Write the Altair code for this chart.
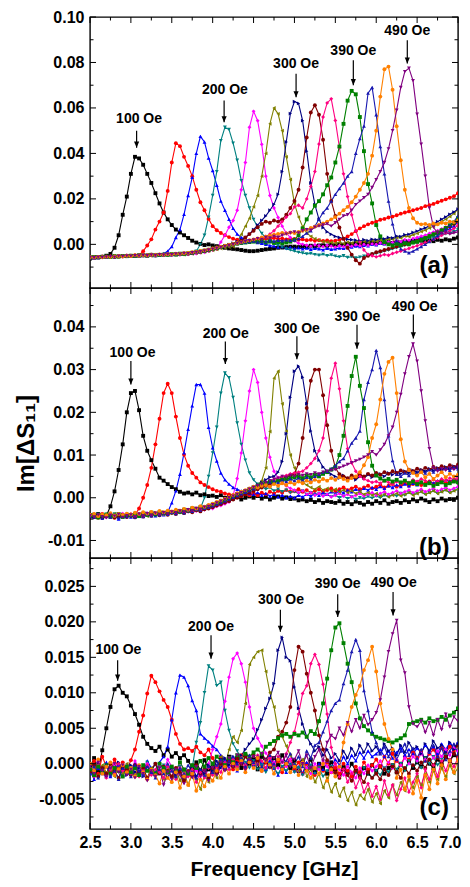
import altair as alt
import pandas as pd

alt.data_transformers.disable_max_rows()

# ---------------- data (values in units of 1e-4) ----------------
FREQ = [round(2.5 + 0.05 * i, 2) for i in range(91)]
UNIT = 1e-4

CURVE_NAMES = ["black", "red", "blue", "teal", "magenta", "olive", "navy",
               "maroon", "pink", "green", "royal", "orange", "purple"]
CURVE_COLORS = ["#000000", "#FF0000", "#0000FF", "#008080", "#FF00FF", "#808000", "#000080",
                "#800000", "#FF0080", "#008000", "#1818B0", "#FF8000", "#800080"]
CURVE_SHAPES = ["square", "circle", "triangle-up", "triangle-down", "diamond", "triangle-left",
                "triangle-right", "circle", "diamond", "square", "triangle-up", "circle", "triangle-down"]

# ---- panel (a)
A_BLACK = [-62,-58,-57,-55,-50,-42,-15,40,130,210,
           310,385,378,350,310,270,225,180,140,110,
           85,65,52,40,28,16,8,2,-3,0,
           -5,-8,-12,-15,-18,-20,-22,-25,-28,-30,
           -30,-28,-25,-22,-20,-18,-15,-14,-12,-10,
           -10,-12,-8,-10,-6,-8,-5,-4,-6,-2,
           -4,0,-2,2,0,4,2,5,3,6,
           4,8,5,10,6,12,8,14,10,15,
           12,16,12,18,14,20,16,22,18,25,
           30]
A_RED = [-60,-57,-56,-54,-56,-53,-52,-54,-51,-50,
         -50,-49,-48,-30,-5,22,65,100,140,235,
         360,445,432,385,345,300,240,185,150,112,
         80,62,50,40,32,25,20,15,12,14,
         18,22,20,25,22,28,24,26,22,25,
         24,20,22,18,20,16,18,15,17,14,
         16,20,25,35,45,58,70,80,88,95,
         100,108,112,118,122,128,135,140,145,150,
         155,160,168,172,178,185,192,198,205,212,
         225]
A_BLUE = [-58,-60,-55,-57,-54,-56,-52,-53,-50,-52,
          -51,-49,-50,-48,-50,-47,-49,-45,-40,-30,
          -10,30,65,132,215,295,400,475,450,380,
          325,260,190,150,110,70,45,30,22,18,
          14,8,4,0,-5,-8,-12,-10,-15,-12,
          -18,-15,-20,-16,-22,-18,-20,-24,-18,-22,
          -20,-16,-18,-14,-12,-8,-10,-4,-6,0,
          -2,4,2,8,6,12,10,16,14,20,
          24,30,28,36,40,48,54,60,70,80,
          100]
A_TEAL = [-57,-59,-56,-55,-57,-54,-55,-52,-53,-51,
          -50,-52,-49,-50,-48,-49,-47,-48,-46,-47,
          -45,-47,-44,-46,-43,-40,-30,0,40,120,
          215,320,456,515,505,445,370,280,215,160,
          110,75,48,30,15,5,-5,-12,-20,-25,
          -30,-35,-38,-42,-40,-45,-48,-44,-50,-46,
          -52,-55,-50,-58,-54,-60,-56,-52,-48,-44,
          -40,-36,-30,-26,-20,-15,-10,-5,0,5,
          10,16,20,26,30,36,40,46,50,56,
          65]
A_MAGENTA = [-59,-56,-58,-54,-55,-56,-53,-51,-54,-50,
             -52,-49,-50,-47,-51,-48,-49,-46,-48,-45,
             -47,-44,-46,-43,-44,-40,-41,-37,-35,-30,
             -25,-18,10,40,75,105,150,240,360,515,
             585,544,440,300,215,160,118,80,50,30,
             15,5,0,-4,-8,-2,-6,-10,-4,-8,
             -12,-6,-10,-4,-8,-2,-6,0,-4,2,
             0,6,4,10,8,14,12,20,18,26,
             30,36,40,48,54,60,68,76,84,92,
             110]
A_OLIVE = [-57,-58,-55,-56,-54,-53,-55,-51,-52,-50,
           -51,-50,-48,-49,-47,-50,-46,-48,-45,-47,
           -44,-46,-43,-45,-41,-42,-38,-36,-33,-30,
           -26,-22,-18,-15,-12,-10,10,44,80,115,
           165,215,300,400,530,600,574,500,385,285,
           180,120,78,50,35,25,18,12,10,8,
           5,8,4,10,6,12,8,14,10,16,
           14,20,18,24,22,30,28,36,34,42,
           48,56,62,72,80,90,100,110,122,135,
           155]
A_NAVY = [-56,-58,-55,-57,-53,-55,-52,-54,-51,-52,
          -50,-51,-48,-50,-49,-47,-48,-46,-47,-45,
          -46,-43,-44,-41,-42,-38,-36,-33,-30,-25,
          -20,-15,-10,-6,-2,5,12,20,30,45,
          65,85,105,125,150,176,220,320,450,575,
          628,620,544,410,270,175,110,74,55,44,
          35,30,25,22,20,18,15,20,16,22,
          20,26,24,30,28,36,34,42,44,52,
          58,66,72,82,90,100,110,120,132,142,
          155]
A_MAROON = [-58,-56,-57,-54,-55,-53,-56,-52,-53,-50,
            -52,-49,-50,-48,-49,-46,-48,-45,-47,-44,
            -45,-42,-44,-40,-41,-38,-35,-32,-30,-26,
            -22,-18,-12,-8,-4,0,6,15,30,45,
            60,75,90,100,95,105,100,110,130,160,
            191,240,338,470,580,612,570,460,310,191,
            125,74,25,-15,-45,-70,-85,-60,-50,-42,
            -35,-30,-25,-20,-14,-10,-4,0,5,10,
            16,22,28,36,44,52,60,70,80,90,
            100]
A_PINK = [-57,-59,-56,-55,-56,-53,-54,-52,-51,-53,
          -50,-51,-48,-50,-47,-49,-46,-47,-45,-46,
          -44,-45,-42,-43,-40,-38,-36,-33,-30,-26,
          -22,-18,-14,-10,-6,-2,2,6,10,14,
          18,22,28,35,45,60,80,100,120,135,
          165,172,160,200,255,320,441,560,622,640,
          545,426,310,210,130,60,10,-25,-44,-50,
          -55,-50,-45,-48,-40,-35,-30,-24,-18,-12,
          -6,0,8,14,22,30,40,50,60,70,
          85]
A_GREEN = [-58,-56,-57,-55,-54,-56,-52,-54,-51,-52,
           -50,-51,-49,-48,-50,-46,-48,-47,-45,-46,
           -43,-45,-41,-42,-39,-37,-34,-31,-28,-24,
           -20,-16,-12,-8,-4,0,3,6,8,10,
           12,10,14,8,12,6,10,5,8,12,
           20,40,70,110,140,170,190,220,260,294,
           360,430,530,632,675,660,560,410,265,180,
           85,35,10,0,-5,2,-4,5,0,8,
           12,20,28,36,44,52,62,72,84,96,
           115]
A_ROYAL = [-57,-55,-58,-54,-56,-53,-55,-51,-53,-50,
           -51,-49,-50,-47,-49,-46,-48,-45,-47,-44,
           -45,-42,-43,-40,-38,-36,-34,-30,-27,-23,
           -19,-15,-10,-6,-2,2,5,8,10,12,
           14,10,15,12,16,14,18,16,20,18,
           20,25,35,50,60,80,110,140,160,190,
           220,245,270,300,320,400,465,520,665,690,
           570,430,310,190,90,15,-20,-30,-37,-30,
           -20,-10,0,12,24,38,52,68,84,100,
           125]
A_ORANGE = [-56,-58,-55,-57,-54,-55,-53,-51,-53,-50,
            -52,-48,-50,-47,-49,-46,-47,-44,-46,-43,
            -44,-41,-42,-39,-38,-35,-33,-29,-26,-22,
            -18,-14,-10,-6,-2,2,6,10,14,18,
            22,26,30,34,38,42,46,50,48,52,
            50,55,60,65,72,78,85,92,100,110,
            120,135,150,165,185,210,240,270,310,390,
            500,650,770,782,680,520,370,240,160,115,
            95,88,90,85,92,88,95,92,100,98,
            105]
A_PURPLE = [-57,-59,-56,-58,-55,-54,-56,-52,-53,-51,
            -52,-50,-51,-48,-50,-47,-49,-45,-47,-44,
            -45,-42,-43,-40,-41,-37,-35,-32,-29,-25,
            -21,-17,-13,-9,-5,0,4,8,12,16,
            20,25,22,30,28,35,32,40,45,50,
            55,50,60,65,62,75,80,85,90,80,
            95,110,125,130,150,175,190,205,220,250,
            285,320,360,420,500,590,690,760,775,720,
            573,441,300,160,75,50,48,52,45,50,
            55]

# ---- panel (b)
B_BLACK = [-40,-44,-38,-45,-42,-20,15,65,125,200,
           245,250,205,145,110,88,68,47,40,32,
           25,20,14,10,12,8,12,6,8,4,
           5,2,6,0,4,-2,2,-4,0,3,
           0,4,-2,2,-4,0,3,-2,1,-3,
           -2,-6,-4,-8,-5,-10,-6,-12,-8,-10,
           -12,-8,-14,-10,-15,-9,-12,-16,-10,-14,
           -8,-12,-6,-14,-10,-8,-12,-6,-10,-4,
           -8,-2,-6,-10,-4,-8,-2,-6,-3,-5,
           0]
B_RED = [-42,-40,-45,-38,-43,-41,-47,-40,-44,-39,
         -42,-40,-25,0,30,70,125,185,245,267,
         245,190,140,101,75,58,47,36,30,25,
         20,16,14,10,8,6,10,4,8,6,
         10,6,12,8,14,10,16,12,18,14,
         16,20,14,18,12,16,20,14,18,22,
         16,20,24,18,22,26,20,24,28,22,
         26,30,24,28,32,26,30,34,28,32,
         36,30,34,38,32,36,40,34,38,42,
         40]
B_BLUE = [-44,-40,-46,-41,-38,-45,-42,-50,-43,-40,
          -45,-42,-39,-44,-40,-38,-42,-36,-40,-34,
          -12,16,55,105,160,215,265,265,245,165,
          117,86,58,42,32,24,20,16,12,10,
          8,12,6,10,4,8,2,6,0,4,
          0,6,2,8,4,10,6,12,8,14,
          10,16,12,18,14,20,16,22,18,24,
          20,26,22,28,24,30,26,32,28,34,
          30,36,32,38,34,40,36,42,38,44,
          40]
B_TEAL = [-40,-43,-39,-45,-41,-44,-38,-46,-42,-40,
          -43,-39,-41,-37,-42,-38,-40,-36,-39,-35,
          -37,-33,-35,-31,-33,-28,-30,-25,0,50,
          105,165,245,292,281,235,175,125,88,58,
          42,32,26,20,24,16,20,14,18,12,
          14,10,16,8,12,6,10,4,8,2,
          6,0,4,-2,2,-4,0,-2,3,-1,
          4,0,6,2,8,4,10,6,12,8,
          10,14,8,12,16,10,14,18,12,16,
          20]
B_MAGENTA = [-42,-38,-44,-40,-45,-39,-43,-41,-37,-42,
             -40,-44,-38,-41,-36,-40,-38,-35,-39,-33,
             -36,-32,-34,-30,-33,-28,-31,-26,-28,-23,
             -25,-20,-18,-14,-10,5,45,105,180,250,
             300,270,200,140,95,62,47,36,28,22,
             18,12,16,8,12,6,10,4,8,2,
             6,10,4,8,2,6,10,4,8,12,
             6,10,14,8,12,16,10,14,18,12,
             16,20,14,18,22,16,20,24,18,22,
             26]
B_OLIVE = [-41,-45,-39,-43,-40,-46,-38,-42,-44,-39,
           -42,-37,-40,-38,-43,-36,-39,-35,-38,-34,
           -35,-31,-33,-29,-31,-26,-28,-24,-25,-20,
           -18,-14,-10,-6,-2,2,6,10,14,18,
           22,30,40,70,155,280,296,220,156,100,
           70,48,36,30,24,20,26,18,22,16,
           20,14,18,12,16,10,14,8,12,6,
           10,4,8,2,6,10,4,8,12,6,
           10,14,8,12,16,10,14,18,12,16,
           20]
B_NAVY = [-43,-39,-45,-40,-42,-38,-44,-41,-39,-43,
          -40,-37,-41,-38,-36,-40,-35,-38,-34,-36,
          -33,-35,-30,-32,-28,-30,-25,-26,-22,-20,
          -16,-12,-8,-4,0,4,8,12,16,20,
          24,30,36,42,48,50,60,85,150,235,
          296,308,282,220,156,110,88,72,62,55,
          50,46,52,44,48,42,50,46,54,48,
          52,56,50,58,54,60,56,62,58,64,
          60,66,62,68,64,70,66,72,68,74,
          72]
B_MAROON = [-45,-41,-47,-42,-44,-40,-46,-43,-41,-45,
            -42,-46,-40,-44,-38,-42,-37,-41,-36,-40,
            -35,-38,-33,-36,-31,-34,-29,-32,-27,-25,
            -22,-18,-15,-11,-8,-4,0,4,8,12,
            16,20,24,28,32,36,40,44,48,52,
            55,80,140,210,274,300,300,240,170,110,
            70,55,50,46,52,48,54,50,56,52,
            58,54,60,56,62,58,64,60,66,62,
            68,64,70,66,72,68,74,70,76,72,
            78]
B_PINK = [-40,-44,-42,-38,-45,-41,-43,-39,-44,-40,
          -38,-42,-39,-43,-37,-40,-36,-39,-35,-37,
          -33,-36,-31,-34,-29,-32,-27,-28,-24,-22,
          -18,-14,-10,-6,-2,2,6,10,14,18,
          22,26,30,34,38,42,46,50,52,56,
          58,60,62,70,80,92,110,140,203,280,
          315,255,180,115,82,62,50,44,40,36,
          38,34,40,36,32,38,34,40,36,42,
          38,44,40,36,42,38,44,40,46,42,
          48]
B_GREEN = [-43,-40,-46,-41,-39,-44,-42,-38,-45,-40,
           -41,-38,-43,-37,-40,-35,-39,-34,-37,-33,
           -34,-31,-33,-28,-30,-25,-27,-22,-23,-19,
           -16,-12,-8,-4,0,4,8,12,16,20,
           24,28,32,34,38,36,40,42,44,46,
           48,50,46,52,48,54,50,56,60,66,
           72,100,145,215,285,330,262,210,130,75,
           52,45,40,44,38,42,36,40,34,38,
           32,36,30,34,28,32,36,30,34,38,
           36]
B_ROYAL = [-44,-46,-41,-48,-43,-45,-40,-47,-42,-44,
           -41,-45,-39,-43,-38,-42,-37,-40,-36,-39,
           -34,-37,-32,-35,-30,-32,-27,-29,-24,-22,
           -19,-15,-11,-7,-3,1,5,9,13,17,
           21,25,29,33,37,40,36,42,38,44,
           40,46,42,48,44,50,55,60,62,68,
           75,85,92,110,128,140,156,230,270,300,
           345,305,230,145,87,55,50,58,52,60,
           56,64,58,66,60,68,62,70,64,72,
           68]
B_ORANGE = [-40,-38,-43,-39,-41,-36,-42,-38,-40,-37,
            -39,-35,-38,-34,-37,-33,-36,-31,-34,-30,
            -32,-28,-30,-26,-28,-23,-25,-20,-21,-17,
            -14,-10,-6,-2,2,6,10,14,18,22,
            26,24,28,30,26,32,28,34,30,36,
            32,38,34,40,36,42,38,44,40,46,
            42,48,44,40,46,50,60,76,95,140,
            172,230,290,318,328,245,137,85,65,58,
            52,60,48,56,44,52,60,48,56,50,
            54]
B_PURPLE = [-42,-45,-40,-44,-47,-41,-43,-39,-46,-42,
            -40,-44,-38,-42,-37,-41,-36,-39,-35,-38,
            -33,-35,-31,-33,-28,-30,-25,-27,-22,-20,
            -16,-12,-8,-4,0,4,8,12,16,20,
            24,28,32,36,40,44,46,50,48,52,
            50,54,52,56,54,58,56,60,62,64,
            66,70,74,78,82,86,90,95,100,108,
            100,112,125,145,165,200,242,290,330,360,
            320,250,180,115,70,62,68,64,70,66,
            72]

# ---- panel (c)
C_BLACK = [-5,8,-12,19,50,80,105,110,100,95,
           82,70,55,38,28,22,18,24,12,20,
           10,15,8,12,4,-6,2,-10,5,-8,
           0,-12,6,-4,10,-2,8,-6,12,0,
           6,-8,10,2,-4,8,-2,12,0,-6,
           4,-10,2,-8,6,-12,0,-6,-14,2,
           -8,-16,-4,-12,0,-10,-18,-6,-14,-2,
           -10,-4,-14,-6,-2,-12,0,-8,4,-6,
           2,-4,8,0,-6,6,-2,10,4,12,
           8]
C_RED = [-8,4,-14,10,-4,-12,6,-6,2,-10,
         5,20,45,68,99,124,115,102,90,80,
         62,42,28,20,22,18,24,16,12,20,
         8,-4,10,-2,6,-8,4,12,-6,2,
         -4,8,-10,2,10,-6,4,-12,0,6,
         -8,2,-14,0,-6,-16,-4,-10,2,-12,
         -6,-14,0,-10,-18,-4,-12,2,-8,-2,
         6,-4,10,0,14,4,-2,10,6,16,
         8,18,4,14,20,10,22,14,24,18,
         26]
C_BLUE = [-10,-22,-6,-14,2,-18,-8,-2,-16,-6,
          -12,0,-8,-14,4,-6,-12,2,10,24,
          62,100,125,122,110,89,75,42,36,31,
          25,20,12,4,-6,2,-10,6,-4,8,
          -2,10,0,-8,4,-6,-16,-4,-12,0,
          -10,-4,-14,2,-6,-12,0,-8,4,-4,
          6,-2,10,0,12,4,16,8,18,10,
          14,20,10,18,8,16,22,12,20,14,
          22,16,26,18,24,14,28,20,30,22,
          30]
C_TEAL = [-12,-2,-20,-8,-16,0,-10,-22,-6,-14,
          -4,-18,-8,-12,2,-10,-16,-6,-2,-14,
          -8,-20,-4,-12,-18,-6,30,58,100,138,
          132,110,115,75,47,28,18,8,2,-6,
          4,-8,-2,-12,0,-6,-14,-4,-10,-2,
          -12,-6,-16,-8,-2,-14,-6,-18,-10,-4,
          -14,-20,-8,-16,-24,-12,-18,-6,-14,-20,
          -10,-16,-6,-12,-2,-8,0,-10,4,-4,
          2,-6,8,0,10,-2,6,12,4,14,
          10]
C_MAGENTA = [-6,-16,2,-10,-4,-14,0,-8,-18,-2,
             -10,4,-6,-12,0,-8,-14,-2,-10,6,
             -4,-12,2,-8,-16,-2,-10,-18,-6,0,
             20,38,56,88,122,148,156,141,115,80,
             50,36,25,15,8,2,-6,4,-4,6,
             -2,-10,2,-6,-14,0,-8,4,-4,-12,
             0,-8,-16,-4,-12,-20,-6,-14,-2,-10,
             -4,4,-8,2,-6,6,-2,8,0,10,
             4,14,6,16,8,18,10,20,12,22,
             18]
C_OLIVE = [-10,-4,-16,-2,-12,-8,-18,-6,-14,0,
           -8,-16,-4,-12,-20,-6,-14,-10,-22,-8,
           -18,-6,-24,-12,-30,-14,-22,-36,-16,-26,
           -10,-20,10,-4,20,38,30,47,85,140,
           150,158,160,130,100,80,47,38,25,12,
           0,-10,6,-18,-8,-26,-14,-34,-20,-40,
           -28,-46,-34,-52,-40,-58,-44,-50,-36,-54,
           -42,-56,-38,-48,-30,-44,-26,-38,-22,-34,
           -18,-30,-14,-26,-10,-22,-6,-18,-2,-14,
           -6]
C_NAVY = [-4,-14,0,-10,-18,-6,-12,2,-8,-16,
          -2,-12,-6,-18,-4,-10,0,-14,-8,-20,
          -6,-16,-10,-22,-12,-4,-18,-8,-14,-2,
          -10,4,-6,8,-2,10,2,12,20,28,
          35,48,62,78,92,113,160,178,150,145,
          108,78,56,38,28,18,24,12,20,8,
          14,4,18,8,22,12,26,16,28,18,
          24,14,28,18,22,12,26,16,30,20,
          24,14,28,18,32,22,26,16,30,20,
          28]
C_MAROON = [-12,-2,-18,-6,-14,0,-10,-20,-4,-8,
            -16,-2,-12,-6,-20,-8,0,-14,-4,-10,
            -18,-6,-12,-24,-10,-16,-2,-14,-8,-20,
            -6,-12,0,-8,4,-4,8,0,10,2,
            12,4,14,6,16,20,38,45,58,80,
            132,165,158,127,100,75,40,20,5,-6,
            -12,-20,-8,-16,-24,-10,-18,-26,-12,-20,
            -14,-22,-8,-16,-4,-12,-20,-6,-14,-2,
            -10,2,-6,6,-2,8,0,10,4,14,
            10]
C_PINK = [-6,-18,-2,-12,-20,-8,-14,0,-10,-4,
          -14,-6,-18,-10,-2,-16,-8,-12,-20,-4,
          -10,-22,-6,-14,-18,-8,-26,-12,-20,-6,
          -16,-4,-12,2,-8,6,-4,8,-2,10,
          0,12,4,-6,8,-2,10,2,14,30,
          45,70,99,110,141,154,140,112,70,23,
          0,-18,-8,-26,-14,-34,-20,-40,-28,-46,
          -32,-50,-24,-44,-30,-52,-36,-20,-40,-26,
          -14,-34,-8,-22,-2,-18,4,-10,6,-4,
          8]
C_GREEN = [-8,-16,-4,-12,-2,-14,-6,-10,-18,-4,
           -12,-6,-16,-2,-10,-8,-14,0,-6,-12,
           -4,-10,2,-8,-14,-2,-6,4,-4,8,
           0,10,4,-2,8,2,12,6,14,10,
           16,20,14,24,28,32,36,40,42,38,
           42,40,44,38,46,42,60,85,120,160,
           192,198,170,141,115,85,64,53,47,42,
           38,36,34,32,30,33,36,40,56,58,
           60,62,58,64,60,62,66,62,68,72,
           78]
C_ROYAL = [-14,-4,-20,-8,-2,-16,-10,-22,-6,-12,
           -18,-2,-10,-16,-4,-12,-20,-8,-14,0,
           -10,-18,-6,-14,-2,-12,-20,-8,-16,-4,
           -12,-2,6,-6,4,10,0,8,-4,12,
           2,10,-4,6,12,0,8,-6,4,14,
           0,10,-4,18,8,26,30,45,60,75,
           85,90,113,132,158,175,160,103,75,45,
           30,14,24,10,20,6,18,28,12,22,
           8,20,4,16,26,10,22,6,18,28,
           14]
C_ORANGE = [0,-10,6,-14,-4,2,-16,-8,-2,-12,
            -6,-18,-2,-12,-22,-8,-16,-28,-10,-20,
            -26,-12,-34,-18,-30,-14,-38,-22,-32,-16,
            -24,-10,-20,-4,-14,0,-8,4,-12,2,
            -6,8,-10,4,-2,-14,6,-8,0,-12,
            -4,-16,2,-10,-20,-6,-14,0,-24,-8,
            -18,-4,30,56,80,97,110,132,146,165,
            130,85,56,35,20,-20,-8,-36,-18,-42,
            -24,-48,-16,-36,-8,-28,-2,-22,4,-12,
            6]
C_PURPLE = [-4,-14,2,-10,-18,-6,0,-12,-2,-16,
            -8,-20,-4,-14,-24,-10,-18,-6,-30,-12,
            -22,-8,-16,-28,-12,-20,-4,-18,-10,-24,
            -6,-16,2,-10,8,-4,12,0,-8,6,
            10,-2,14,4,-6,8,16,2,12,-4,
            6,18,0,12,-6,10,20,4,30,40,
            35,50,40,58,45,62,50,68,55,62,
            72,90,122,158,183,202,146,128,80,56,
            52,60,44,58,40,62,48,70,52,66,
            60]

PANEL_A = [A_BLACK, A_RED, A_BLUE, A_TEAL, A_MAGENTA, A_OLIVE, A_NAVY,
           A_MAROON, A_PINK, A_GREEN, A_ROYAL, A_ORANGE, A_PURPLE]
PANEL_B = [B_BLACK, B_RED, B_BLUE, B_TEAL, B_MAGENTA, B_OLIVE, B_NAVY,
           B_MAROON, B_PINK, B_GREEN, B_ROYAL, B_ORANGE, B_PURPLE]
PANEL_C = [C_BLACK, C_RED, C_BLUE, C_TEAL, C_MAGENTA, C_OLIVE, C_NAVY,
           C_MAROON, C_PINK, C_GREEN, C_ROYAL, C_ORANGE, C_PURPLE]

# annotations
ANN_TEXT = ["100 Oe", "200 Oe", "300 Oe", "390 Oe", "490 Oe"]
A_ARROW_F = [3.07, 4.14, 5.02, 5.72, 6.38]
A_LABEL_F = [3.10, 4.15, 5.02, 5.72, 6.38]
A_LABEL_Y = [0.0552, 0.0680, 0.0795, 0.0849, 0.0937]
A_TOP_Y = [0.0500, 0.0633, 0.0750, 0.0810, 0.0898]
A_TIP_Y = [0.0425, 0.0537, 0.0647, 0.0700, 0.0795]

B_ARROW_F = [3.00, 4.155, 5.03, 5.765, 6.454]
B_LABEL_F = [3.02, 4.16, 5.03, 5.77, 6.47]
B_LABEL_Y = [0.0339, 0.0384, 0.0396, 0.0423, 0.0446]
B_TOP_Y = [0.0320, 0.0366, 0.0378, 0.0405, 0.0429]
B_TIP_Y = [0.0265, 0.0313, 0.0324, 0.0349, 0.0373]

C_ARROW_F = [2.838, 3.98, 4.828, 5.529, 6.206]
C_LABEL_F = [2.847, 3.98, 4.836, 5.529, 6.214]
C_LABEL_Y = [0.0161, 0.0193, 0.0231, 0.0253, 0.0255]
C_TOP_Y = [0.0146, 0.0181, 0.0217, 0.0239, 0.0242]
C_TIP_Y = [0.0117, 0.0148, 0.0186, 0.0207, 0.0209]

TAGS = ["(a)", "(b)", "(c)"]
TAG_F = 6.71
TAG_Y = [-0.0096, -0.0117, -0.0063]

# axes / ticks
X_MAJOR = [2.5, 3.0, 3.5, 4.0, 4.5, 5.0, 5.5, 6.0, 6.5, 7.0]
X_MINOR = [2.75, 3.25, 3.75, 4.25, 4.75, 5.25, 5.75, 6.25, 6.75]
A_YMAJOR = [0.0, 0.02, 0.04, 0.06, 0.08, 0.10]
A_YMINOR = [-0.01, 0.01, 0.03, 0.05, 0.07, 0.09]
B_YMAJOR = [-0.01, 0.0, 0.01, 0.02, 0.03, 0.04]
B_YMINOR = [-0.005, 0.005, 0.015, 0.025, 0.035, 0.045]
C_YMAJOR = [-0.005, 0.0, 0.005, 0.010, 0.015, 0.020, 0.025]
C_YMINOR = [-0.0075, -0.0025, 0.0025, 0.0075, 0.0125, 0.0175, 0.0225, 0.0275]
A_DOMAIN = [-0.0192, 0.100]
B_DOMAIN = [-0.0141, 0.0491]
C_DOMAIN = [-0.0092, 0.0290]

W = 368
FONT = "Liberation Sans"
ARROW_HEAD = "M-0.42,-1L0.42,-1L0,0Z"


def make_panel(arrays, ydomain, ymajor, yminor, yfmt, ann, tag, tag_y, height,
               show_x=False, ytitle=None):
    rows = []
    for name, arr in zip(CURVE_NAMES, arrays):
        for f, v in zip(FREQ, arr):
            rows.append({"curve": name, "f": f, "val": v * UNIT})
    df = pd.DataFrame(rows)

    xscale = alt.Scale(domain=[2.5, 7.0], nice=False, zero=False)
    yscale = alt.Scale(domain=ydomain, nice=False, zero=False)
    if show_x:
        xaxis = alt.Axis(values=X_MAJOR, format=".1f", ticks=False, domain=False, grid=False,
                         labelFontSize=16, labelFontWeight="bold", labelColor="black",
                         labelPadding=5, labelFlush=False,
                         labelAlign=alt.condition("datum.value > 6.9", alt.value("right"), alt.value("center")),
                         labelOffset=alt.condition("datum.value > 6.9", alt.value(3), alt.value(0)),
                         title="Frequency [GHz]", titleFontSize=21, titleFontWeight="bold",
                         titleColor="black", titlePadding=8)
    else:
        xaxis = None
    yaxis_kw = dict(values=ymajor,
                    labelExpr=f"datum.value < 0 ? '-' + format(-datum.value, '{yfmt}') : format(datum.value, '{yfmt}')",
                    ticks=False, domain=False, grid=False, labelFontSize=16,
                    labelFontWeight="bold", labelColor="black", labelPadding=6, labelFlush=False)
    if ytitle:
        yaxis_kw.update(title=ytitle, titleFontSize=24, titleFontWeight="bold", titleColor="black",
                        titleX=-64, titleY=155, titleBaseline="middle", titleAngle=-90,
                        titleAlign="center")
    else:
        yaxis_kw.update(title=None)
    yaxis = alt.Axis(**yaxis_kw)

    X = alt.X("f:Q", scale=xscale, axis=xaxis)
    Y = alt.Y("val:Q", scale=yscale, axis=yaxis)
    color = alt.Color("curve:N", scale=alt.Scale(domain=CURVE_NAMES, range=CURVE_COLORS), legend=None)
    shape = alt.Shape("curve:N", scale=alt.Scale(domain=CURVE_NAMES, range=CURVE_SHAPES), legend=None)

    lines = alt.Chart(df).mark_line(strokeWidth=1.1, clip=True).encode(x=X, y=Y, color=color)
    points = alt.Chart(df).mark_point(filled=True, size=15, opacity=1, strokeWidth=0, clip=True).encode(
        x=X, y=Y, color=color, shape=shape)

    arrow_f, label_f, label_y, top_y, tip_y = ann
    adf = pd.DataFrame({"f": arrow_f, "val": top_y, "val2": tip_y})
    hdf = pd.DataFrame({"f": arrow_f, "val": tip_y})
    tdf = pd.DataFrame({"f": label_f, "val": label_y, "text": ANN_TEXT})
    arrows = alt.Chart(adf).mark_rule(color="black", strokeWidth=1.2).encode(x=X, y=Y, y2="val2:Q")
    heads = alt.Chart(hdf).mark_point(shape=ARROW_HEAD, filled=True, color="black", opacity=1,
                                      size=150, strokeWidth=0).encode(x=X, y=Y)
    labels = alt.Chart(tdf).mark_text(fontSize=14, fontWeight="bold", color="black",
                                      align="center", baseline="middle").encode(x=X, y=Y, text="text:N")
    tg = alt.Chart(pd.DataFrame({"f": [TAG_F], "val": [tag_y], "text": [tag]})).mark_text(
        fontSize=24, fontWeight="bold", color="black", align="center", baseline="middle").encode(
        x=X, y=Y, text="text:N")

    ymaj = pd.DataFrame({"val": ymajor})
    ymin = pd.DataFrame({"val": yminor})
    xmaj = pd.DataFrame({"f": X_MAJOR})
    xmin = pd.DataFrame({"f": X_MINOR})
    tick_layers = []
    for d, ln in ((ymaj, 6), (ymin, 3.5)):
        tick_layers.append(alt.Chart(d).mark_rule(color="black", strokeWidth=1).encode(
            y=Y, x=alt.value(0), x2=alt.value(ln)))
        tick_layers.append(alt.Chart(d).mark_rule(color="black", strokeWidth=1).encode(
            y=Y, x=alt.value(W), x2=alt.value(W - ln)))
    for d, ln in ((xmaj, 6), (xmin, 3.5)):
        tick_layers.append(alt.Chart(d).mark_rule(color="black", strokeWidth=1).encode(
            x=X, y=alt.value(0), y2=alt.value(ln)))
        tick_layers.append(alt.Chart(d).mark_rule(color="black", strokeWidth=1).encode(
            x=X, y=alt.value(height), y2=alt.value(height - ln)))

    return alt.layer(lines, points, *tick_layers, arrows, heads, labels, tg).properties(
        width=W, height=height)


pa = make_panel(PANEL_A, A_DOMAIN, A_YMAJOR, A_YMINOR, ".2f",
                (A_ARROW_F, A_LABEL_F, A_LABEL_Y, A_TOP_Y, A_TIP_Y), TAGS[0], TAG_Y[0], 271)
pb = make_panel(PANEL_B, B_DOMAIN, B_YMAJOR, B_YMINOR, ".2f",
                (B_ARROW_F, B_LABEL_F, B_LABEL_Y, B_TOP_Y, B_TIP_Y), TAGS[1], TAG_Y[1], 270,
                ytitle="Im[ΔS₁₁]")
pc = make_panel(PANEL_C, C_DOMAIN, C_YMAJOR, C_YMINOR, ".3f",
                (C_ARROW_F, C_LABEL_F, C_LABEL_Y, C_TOP_Y, C_TIP_Y), TAGS[2], TAG_Y[2], 271,
                show_x=True)

chart = alt.vconcat(pa, pb, pc, spacing=0, bounds="flush").properties(
    padding={"left": 5, "top": 0, "right": 0, "bottom": 0}, background="white"
).configure(font=FONT).configure_view(stroke="black", strokeWidth=1.4)

chart.save("out.html", embed_options={"renderer": "svg", "actions": False})
